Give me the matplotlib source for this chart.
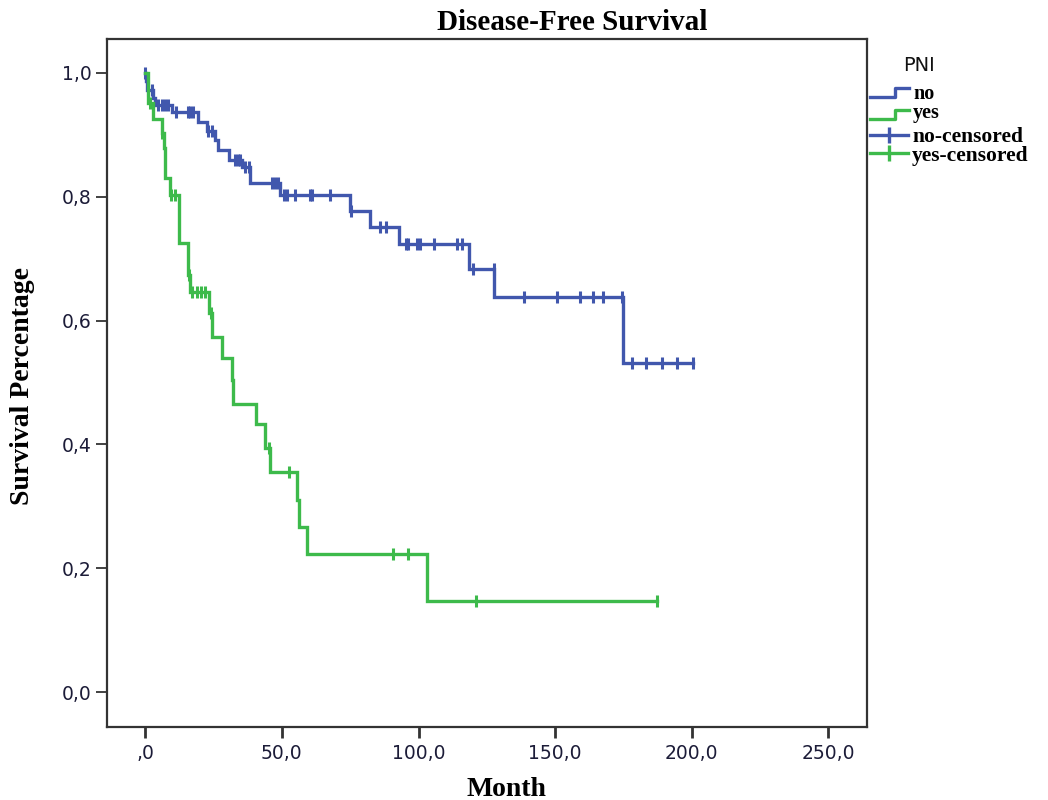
import numpy as np
import matplotlib
matplotlib.use("Agg")
import matplotlib.pyplot as plt
from matplotlib.lines import Line2D

# Kaplan-Meier steps: time of drop, survival after drop
no_t = [0.2, 0.5, 3.0, 3.6, 9.7, 19.4, 22.5, 25.5, 26.8, 30.5, 35.5, 38.5,
        49.3, 74.9, 82.3, 93.0, 118.6, 127.7, 175.0]
no_s = [0.986, 0.972, 0.960, 0.948, 0.937, 0.921, 0.906, 0.891, 0.875, 0.859,
        0.848, 0.8215, 0.8026, 0.777, 0.7515, 0.723, 0.684, 0.6385, 0.531]
no_cens = [0.0, 1.0, 2.5, 4.8, 6.0, 7.2, 8.5, 11.2, 15.8, 16.5, 17.3, 23.0,
           24.5, 32.9, 34.1, 34.7, 36.5, 38.0, 46.3, 47.5, 48.7, 50.6, 51.8,
           54.8, 60.3, 61.0, 67.6, 75.2, 86.0, 88.1, 95.4, 96.3, 99.6, 100.5,
           105.7, 114.0, 115.8, 120.0, 127.5, 138.7, 150.6, 159.1, 164.0,
           167.6, 174.4, 178.0, 183.3, 189.0, 194.7, 200.4]

yes_t = [1.0, 2.9, 6.0, 6.8, 7.3, 9.0, 12.5, 15.8, 16.4, 23.5, 24.5, 28.0,
         31.6, 32.0, 40.6, 43.7, 45.6, 55.6, 56.4, 59.3, 103.0]
yes_s = [0.951, 0.926, 0.902, 0.878, 0.8295, 0.8026, 0.7247, 0.673, 0.6466,
         0.612, 0.574, 0.539, 0.504, 0.466, 0.4325, 0.395, 0.356, 0.310,
         0.267, 0.2227, 0.148]
yes_cens = [1.7, 6.2, 9.4, 10.9, 16.0, 17.0, 18.8, 20.3, 21.9, 23.9, 45.4,
            52.6, 90.8, 96.0, 121.0, 187.3]

x_ticks = [0, 50, 100, 150, 200, 250]
x_labels = [",0", "50,0", "100,0", "150,0", "200,0", "250,0"]
y_ticks = [0.0, 0.2, 0.4, 0.6, 0.8, 1.0]
y_labels = ["0,0", "0,2", "0,4", "0,6", "0,8", "1,0"]

blue = "#4157ad"
green = "#3dba4b"
W, H = 1048, 800


def km(ax, t, s, cens, color):
    t = np.asarray(t)
    s = np.asarray(s)
    end = max(t[-1], max(cens))
    xs = np.r_[0, t, end]
    ys = np.r_[1.0, s, s[-1]]
    ax.step(xs, ys, where="post", color=color, lw=2.4, solid_joinstyle="miter")
    levels = np.r_[1.0, s]
    cy = levels[np.searchsorted(t, cens, side="right")]
    ax.plot(cens, cy, ls="none", marker="|", ms=9, mew=2.2, color=color)


fig = plt.figure(figsize=(W / 100, H / 100), dpi=100)
ax = fig.add_axes([106.7 / W, 1 - 727 / H, 760 / W, 687.7 / H])

km(ax, no_t, no_s, no_cens, blue)
km(ax, yes_t, yes_s, yes_cens, green)

ax.set_xlim(-14.1, 264)
ax.set_ylim(-0.056, 1.054)
ax.set_xticks(x_ticks)
ax.set_xticklabels(x_labels)
ax.set_yticks(y_ticks)
ax.set_yticklabels(y_labels)
ax.tick_params(axis="x", direction="out", length=8, width=2.0, pad=4,
               labelsize=13.5, labelcolor="#1c1c38", color="#333333")
ax.tick_params(axis="y", direction="out", length=8, width=1.3, pad=3,
               labelsize=13.5, labelcolor="#1c1c38", color="#333333")
for sp in ax.spines.values():
    sp.set_linewidth(1.6)
    sp.set_color("#333333")

serif = ["Liberation Serif", "DejaVu Serif"]
fig.text(572 / W, 1 - 30 / H, "Disease-Free Survival", ha="center",
         va="baseline", fontsize=21, fontweight="bold", family=serif)
fig.text(506 / W, 1 - 796 / H, "Month", ha="center", va="baseline",
         fontsize=20, fontweight="bold", family=serif)
fig.text(23 / W, 1 - 386 / H, "Survival Percentage", ha="center", va="center",
         rotation=90, fontsize=20, fontweight="bold", family=serif)

# legend drawn by hand, SPSS style
def P(x, y):
    return x / W, 1 - y / H

fig.text(*P(903, 71), "PNI", ha="left", va="baseline", fontsize=14,
         family="DejaVu Sans", color="#111111")

for name, col, low, high, base in [("no", blue, 97.3, 88.3, 99),
                                   ("yes", green, 118.6, 109.6, 118)]:
    xs = [870, 895, 895, 909]
    ys = [low, low, high, high]
    pts = [P(a, b) for a, b in zip(xs, ys)]
    fig.add_artist(Line2D([p[0] for p in pts], [p[1] for p in pts],
                          transform=fig.transFigure, color=col, lw=2.4))
    fig.text(*P(913, base), name, ha="left", va="baseline", fontsize=14.5,
             fontweight="bold", family=serif)

for name, col, yl, base in [("no-censored", blue, 134.5, 142),
                            ("yes-censored", green, 153, 160.5)]:
    a, b = P(870, yl)
    c, d = P(908, yl)
    fig.add_artist(Line2D([a, c], [b, d], transform=fig.transFigure,
                          color=col, lw=2.4))
    m = P(889, yl)
    fig.add_artist(Line2D([m[0]], [m[1]], transform=fig.transFigure,
                          color=col, ls="none", marker="|", ms=12, mew=2.4))
    fig.text(*P(912, base), name, ha="left", va="baseline", fontsize=15.5,
             fontweight="bold", family=serif)

fig.savefig("out.png", dpi=100)
